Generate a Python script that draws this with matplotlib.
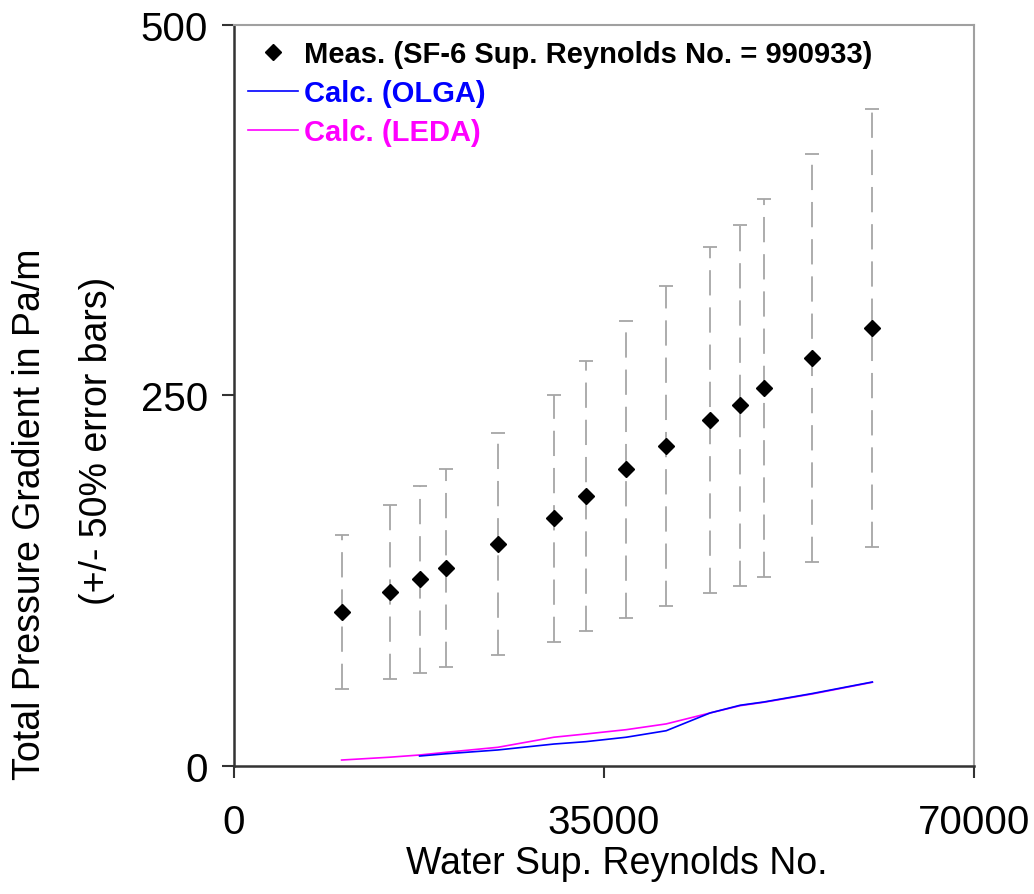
import numpy as np
import matplotlib.pyplot as plt

plt.rcParams['font.family'] = ['Liberation Sans', 'DejaVu Sans']

# water superficial Reynolds number for each test point
re_water = [10200, 14740, 17570, 20030, 24970, 30260, 33280,
            37100, 40880, 45030, 47870, 50100, 54670, 60360]
# measured total pressure gradient, Pa/m
dp_meas = [104.0, 117.5, 125.8, 133.6, 149.6, 167.1, 182.1,
           200.1, 215.8, 233.4, 243.3, 255.2, 275.4, 295.6]
# model predictions, Pa/m
dp_olga = [None, None, 6.5, 8.0, 10.6, 14.6, 16.2,
           19.2, 23.6, 35.6, 40.8, 43.0, 48.7, 56.5]
dp_leda = [3.8, 5.7, 7.2, 9.0, 12.4, 19.2, 21.4,
           24.3, 28.2, 35.6, 40.5, 42.8, 48.4, 56.3]

x = np.array(re_water, dtype=float)
y = np.array(dp_meas)
err = 0.5 * y

fig = plt.figure(figsize=(10.34, 8.95), dpi=100)
ax = fig.add_axes([0.226, 0.1434, 0.7163, 0.8272])

eb = ax.errorbar(x, y, yerr=err, fmt='none', ecolor='#a6a6a6',
                 elinewidth=1.3, capsize=4.7, capthick=1.3, zorder=2)
eb[2][0].set_linestyle((0, (14, 6.6)))

olga = np.array([np.nan if v is None else v for v in dp_olga])
ax.plot(x, np.array(dp_leda), color='#ff00ff', lw=1.2, zorder=3,
        label='Calc. (LEDA)')
ax.plot(x, olga, color='#0000ff', lw=1.2, zorder=3,
        label='Calc. (OLGA)')
ax.plot(x, y, 'D', color='black', ms=8.5, zorder=4,
        label='Meas. (SF-6 Sup. Reynolds No. = 990933)')

ax.set_xlim(0, 70000)
ax.set_ylim(0, 500)
ax.set_xticks([0, 35000, 70000])
ax.set_yticks([0, 250, 500])
ax.tick_params(axis='both', direction='out', length=8.6, width=1.5,
               color='#333333', labelsize=29)
ax.tick_params(axis='x', pad=18)
ax.tick_params(axis='y', pad=10)

for side in ['left', 'bottom']:
    ax.spines[side].set_color('#333333')
    ax.spines[side].set_linewidth(1.8)
for side in ['top', 'right']:
    ax.spines[side].set_color('#a0a0a0')
    ax.spines[side].set_linewidth(1.5)

handles, labels = ax.get_legend_handles_labels()
order = [2, 1, 0]
leg = ax.legend([handles[i] for i in order], [labels[i] for i in order],
                loc='upper left', bbox_to_anchor=(0.0, 1.0), frameon=False,
                prop={'weight': 'bold', 'size': 21}, handlelength=1.7,
                handletextpad=0.2, labelspacing=0.38, borderaxespad=0.1)
for txt, c in zip(leg.get_texts(), ['black', '#0000ff', '#ff00ff']):
    txt.set_color(c)

fig.text(0.596, 0.035, 'Water Sup. Reynolds No.', fontsize=27,
         ha='center', va='center')
fig.text(0.029, 0.4257, 'Total Pressure Gradient in Pa/m', fontsize=27,
         rotation=90, ha='center', va='center')
fig.text(0.0938, 0.5073, '(+/- 50% error bars)', fontsize=27,
         rotation=90, ha='center', va='center')

fig.savefig('out.png', dpi=100)
